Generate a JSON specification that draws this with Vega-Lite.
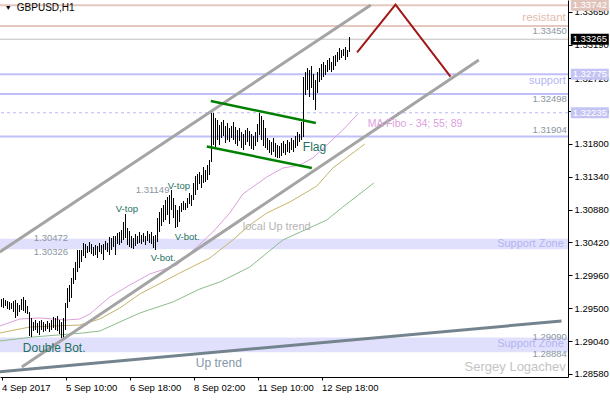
{
"$schema": "https://vega.github.io/schema/vega-lite/v6.json",
"width": 568, "height": 377,
"autosize": {"type": "none"},
"padding": {"left": 0, "top": 0, "right": 42, "bottom": 23},
"background": "white",
"config": {"view": {"stroke": null}, "font": "Liberation Sans"},
"resolve": {"scale": {"color": "independent", "size": "independent"}},
"datasets": {
"bars": [
{"i":0,"h":1.29628,"l":1.29516},{"i":1,"h":1.29642,"l":1.29502},{"i":2,"h":1.29614,"l":1.2953},{"i":3,"h":1.296,"l":1.29488},{"i":4,"h":1.29586,"l":1.29474},{"i":5,"h":1.29572,"l":1.29488},{"i":6,"h":1.296,"l":1.29446},{"i":7,"h":1.29614,"l":1.29362},{"i":8,"h":1.29572,"l":1.2939},{"i":9,"h":1.29544,"l":1.29446},
{"i":10,"h":1.29628,"l":1.29474},{"i":11,"h":1.29656,"l":1.2946},{"i":12,"h":1.29614,"l":1.29432},{"i":13,"h":1.2953,"l":1.29418},{"i":14,"h":1.29446,"l":1.2911},{"i":15,"h":1.29362,"l":1.29096},{"i":16,"h":1.29306,"l":1.2918},{"i":17,"h":1.29334,"l":1.29194},{"i":18,"h":1.29292,"l":1.29152},{"i":19,"h":1.2932,"l":1.29124},
{"i":20,"h":1.29334,"l":1.29194},{"i":21,"h":1.29306,"l":1.29166},{"i":22,"h":1.29278,"l":1.2918},{"i":23,"h":1.2932,"l":1.29208},{"i":24,"h":1.29292,"l":1.29166},{"i":25,"h":1.29334,"l":1.29194},{"i":26,"h":1.29376,"l":1.29222},{"i":27,"h":1.29362,"l":1.29194},{"i":28,"h":1.2939,"l":1.2918},{"i":29,"h":1.29334,"l":1.29138},
{"i":30,"h":1.29306,"l":1.29082},{"i":31,"h":1.29362,"l":1.29068},{"i":32,"h":1.29572,"l":1.29194},{"i":33,"h":1.29782,"l":1.29502},{"i":34,"h":1.29824,"l":1.29586},{"i":35,"h":1.29922,"l":1.29642},{"i":36,"h":1.30062,"l":1.29838},{"i":37,"h":1.30146,"l":1.29894},{"i":38,"h":1.30314,"l":1.30006},{"i":39,"h":1.30314,"l":1.30062},
{"i":40,"h":1.30314,"l":1.30146},{"i":41,"h":1.30412,"l":1.3023},{"i":42,"h":1.30398,"l":1.30202},{"i":43,"h":1.3037,"l":1.30272},{"i":44,"h":1.30426,"l":1.30286},{"i":45,"h":1.30398,"l":1.30258},{"i":46,"h":1.30356,"l":1.3023},{"i":47,"h":1.30384,"l":1.30244},{"i":48,"h":1.3037,"l":1.30202},{"i":49,"h":1.30412,"l":1.30286},
{"i":50,"h":1.30384,"l":1.30258},{"i":51,"h":1.30398,"l":1.30174},{"i":52,"h":1.3044,"l":1.30314},{"i":53,"h":1.30412,"l":1.30286},{"i":54,"h":1.30496,"l":1.30244},{"i":55,"h":1.30482,"l":1.30314},{"i":56,"h":1.3051,"l":1.30356},{"i":57,"h":1.3051,"l":1.30244},{"i":58,"h":1.30552,"l":1.30398},{"i":59,"h":1.30566,"l":1.30384},
{"i":60,"h":1.30594,"l":1.30412},{"i":61,"h":1.30706,"l":1.30454},{"i":62,"h":1.30818,"l":1.30482},{"i":63,"h":1.30622,"l":1.30384},{"i":64,"h":1.3058,"l":1.30356},{"i":65,"h":1.3051,"l":1.30342},{"i":66,"h":1.30482,"l":1.30328},{"i":67,"h":1.30538,"l":1.3037},{"i":68,"h":1.3051,"l":1.30398},{"i":69,"h":1.30566,"l":1.30412},
{"i":70,"h":1.30524,"l":1.30398},{"i":71,"h":1.30552,"l":1.30426},{"i":72,"h":1.3051,"l":1.30384},{"i":73,"h":1.3058,"l":1.3044},{"i":74,"h":1.30538,"l":1.30412},{"i":75,"h":1.30566,"l":1.30398},{"i":76,"h":1.3051,"l":1.30342},{"i":77,"h":1.30524,"l":1.30314},{"i":78,"h":1.30762,"l":1.30426},{"i":79,"h":1.30846,"l":1.30566},
{"i":80,"h":1.30902,"l":1.3065},{"i":81,"h":1.30944,"l":1.30706},{"i":82,"h":1.31014,"l":1.30734},{"i":83,"h":1.31056,"l":1.30804},{"i":84,"h":1.31084,"l":1.30678},{"i":85,"h":1.31154,"l":1.30874},{"i":86,"h":1.31042,"l":1.30762},{"i":87,"h":1.30944,"l":1.30622},{"i":88,"h":1.30874,"l":1.30636},{"i":89,"h":1.3093,"l":1.30706},
{"i":90,"h":1.30972,"l":1.30846},{"i":91,"h":1.31,"l":1.30874},{"i":92,"h":1.30972,"l":1.30874},{"i":93,"h":1.31042,"l":1.30902},{"i":94,"h":1.31112,"l":1.30958},{"i":95,"h":1.31084,"l":1.3093},{"i":96,"h":1.31252,"l":1.31014},{"i":97,"h":1.3135,"l":1.31084},{"i":98,"h":1.31378,"l":1.31154},{"i":99,"h":1.31406,"l":1.31238},
{"i":100,"h":1.31364,"l":1.31182},{"i":101,"h":1.31476,"l":1.31252},{"i":102,"h":1.31434,"l":1.31266},{"i":103,"h":1.31504,"l":1.31294},{"i":104,"h":1.31574,"l":1.31364},{"i":105,"h":1.32232,"l":1.31546},{"i":106,"h":1.32232,"l":1.31784},{"i":107,"h":1.32162,"l":1.31756},{"i":108,"h":1.32134,"l":1.31854},{"i":109,"h":1.32064,"l":1.31784},
{"i":110,"h":1.32106,"l":1.31882},{"i":111,"h":1.32134,"l":1.3191},{"i":112,"h":1.3205,"l":1.31812},{"i":113,"h":1.32092,"l":1.31854},{"i":114,"h":1.32022,"l":1.31826},{"i":115,"h":1.3205,"l":1.31882},{"i":116,"h":1.32106,"l":1.31854},{"i":117,"h":1.32036,"l":1.31798},{"i":118,"h":1.31994,"l":1.3177},{"i":119,"h":1.32022,"l":1.3184},
{"i":120,"h":1.31966,"l":1.31742},{"i":121,"h":1.31938,"l":1.31714},{"i":122,"h":1.31994,"l":1.31784},{"i":123,"h":1.32022,"l":1.31826},{"i":124,"h":1.3198,"l":1.3177},{"i":125,"h":1.31938,"l":1.31728},{"i":126,"h":1.3191,"l":1.31714},{"i":127,"h":1.31966,"l":1.3177},{"i":128,"h":1.32078,"l":1.31826},{"i":129,"h":1.32232,"l":1.31924},
{"i":130,"h":1.3219,"l":1.31854},{"i":131,"h":1.32134,"l":1.3177},{"i":132,"h":1.32022,"l":1.31742},{"i":133,"h":1.31882,"l":1.31714},{"i":134,"h":1.31854,"l":1.31672},{"i":135,"h":1.31826,"l":1.31644},{"i":136,"h":1.31882,"l":1.31686},{"i":137,"h":1.31812,"l":1.31616},{"i":138,"h":1.31784,"l":1.31602},{"i":139,"h":1.3177,"l":1.31602},
{"i":140,"h":1.31812,"l":1.3163},{"i":141,"h":1.3184,"l":1.31672},{"i":142,"h":1.31798,"l":1.31644},{"i":143,"h":1.31854,"l":1.31686},{"i":144,"h":1.31826,"l":1.31672},{"i":145,"h":1.31882,"l":1.31714},{"i":146,"h":1.31854,"l":1.31686},{"i":147,"h":1.3191,"l":1.31742},{"i":148,"h":1.31966,"l":1.3177},{"i":149,"h":1.31938,"l":1.31826},
{"i":150,"h":1.32106,"l":1.31854},{"i":151,"h":1.32736,"l":1.31896},{"i":152,"h":1.32806,"l":1.32484},{"i":153,"h":1.32862,"l":1.32554},{"i":154,"h":1.32834,"l":1.32456},{"i":155,"h":1.3289,"l":1.32582},{"i":156,"h":1.32778,"l":1.32414},{"i":157,"h":1.32694,"l":1.32274},{"i":158,"h":1.32806,"l":1.32512},{"i":159,"h":1.32862,"l":1.32666},
{"i":160,"h":1.32918,"l":1.32694},{"i":161,"h":1.32946,"l":1.32736},{"i":162,"h":1.32904,"l":1.32764},{"i":163,"h":1.32974,"l":1.32806},{"i":164,"h":1.33002,"l":1.32834},{"i":165,"h":1.32946,"l":1.32806},{"i":166,"h":1.3303,"l":1.32834},{"i":167,"h":1.33044,"l":1.3289},{"i":168,"h":1.33086,"l":1.32946},{"i":169,"h":1.33142,"l":1.32974},
{"i":170,"h":1.33114,"l":1.33002},{"i":171,"h":1.33128,"l":1.3303},{"i":172,"h":1.33156,"l":1.32974},{"i":173,"h":1.33114,"l":1.33016},{"i":174,"h":1.33296,"l":1.33086}
],
"ma": [
{"ma":"34","i":-0.85,"p":1.2925},{"ma":"34","i":9.15,"p":1.29348},{"ma":"34","i":19.15,"p":1.29362},{"ma":"34","i":32.15,"p":1.29334},{"ma":"34","i":39.15,"p":1.29348},{"ma":"34","i":44.15,"p":1.29418},{"ma":"34","i":54.15,"p":1.29656},{"ma":"34","i":64.15,"p":1.29824},{"ma":"34","i":74.15,"p":1.29978},{"ma":"34","i":87.65,"p":1.30104},{"ma":"34","i":97.65,"p":1.30356},{"ma":"34","i":105.65,"p":1.30566},{"ma":"34","i":114.15,"p":1.30832},{"ma":"34","i":120.65,"p":1.31098},{"ma":"34","i":132.65,"p":1.31336},{"ma":"34","i":140.65,"p":1.31462},{"ma":"34","i":149.15,"p":1.31504},{"ma":"34","i":155.65,"p":1.31602},{"ma":"34","i":162.65,"p":1.31784},{"ma":"34","i":170.65,"p":1.31994},{"ma":"34","i":178.15,"p":1.32218},
{"ma":"55","i":-0.85,"p":1.29152},{"ma":"55","i":14.15,"p":1.29236},{"ma":"55","i":39.15,"p":1.29264},{"ma":"55","i":49.15,"p":1.29348},{"ma":"55","i":59.15,"p":1.29502},{"ma":"55","i":69.15,"p":1.29698},{"ma":"55","i":89.15,"p":1.29992},{"ma":"55","i":104.15,"p":1.30202},{"ma":"55","i":115.65,"p":1.30454},{"ma":"55","i":124.15,"p":1.30664},{"ma":"55","i":132.65,"p":1.30832},{"ma":"55","i":144.15,"p":1.30986},{"ma":"55","i":152.65,"p":1.31126},{"ma":"55","i":157.65,"p":1.3121},{"ma":"55","i":165.65,"p":1.31462},{"ma":"55","i":181.65,"p":1.31798},
{"ma":"89","i":-0.85,"p":1.2904},{"ma":"89","i":15.65,"p":1.29096},{"ma":"89","i":40.65,"p":1.29152},{"ma":"89","i":49.15,"p":1.2918},{"ma":"89","i":59.15,"p":1.29306},{"ma":"89","i":69.15,"p":1.29432},{"ma":"89","i":85.65,"p":1.29586},{"ma":"89","i":99.15,"p":1.29768},{"ma":"89","i":109.15,"p":1.29866},{"ma":"89","i":124.15,"p":1.30076},{"ma":"89","i":140.65,"p":1.30454},{"ma":"89","i":162.65,"p":1.30734},{"ma":"89","i":170.65,"p":1.30916},{"ma":"89","i":186.15,"p":1.31252}
],
"seg": [
{"g":"channel","id":"up","i":-0.85,"p":1.30286},{"g":"channel","id":"up","i":184.65,"p":1.33744},
{"g":"channel","id":"lo","i":10.15,"p":1.28676},{"g":"channel","id":"lo","i":238.65,"p":1.32974},
{"g":"flag","id":"fu","i":104.65,"p":1.324},{"g":"flag","id":"fu","i":157.15,"p":1.32092},
{"g":"flag","id":"fl","i":102.65,"p":1.31763},{"g":"flag","id":"fl","i":155.15,"p":1.31462},
{"g":"zig","id":"z","i":177.8,"p":1.33082},{"g":"zig","id":"z","i":197,"p":1.33748},{"g":"zig","id":"z","i":224.5,"p":1.3274},
{"g":"trend","id":"t","i":-0.85,"p":1.2861},{"g":"trend","id":"t","i":280,"p":1.2932}
],
"hl": [
{"k":"res","p":1.33742},{"k":"res","p":1.3345},{"k":"bid","p":1.33265},{"k":"sup","p":1.32775},{"k":"sup","p":1.32498},{"k":"sup","p":1.31904},{"k":"dash","p":1.32235}
],
"band": [{"lo":1.30326,"hi":1.30472},{"lo":1.28884,"hi":1.2909}],
"txt": [
{"k":"title","t":"GBPUSD,H1","i":7.65,"p":1.33702},
{"k":"tri","t":"▼","i":1.65,"p":1.33698},
{"k":"price","t":"1.31149","i":67.15,"p":1.31154},
{"k":"price","t":"1.30472","i":16.15,"p":1.30482},
{"k":"price","t":"1.30326","i":16.15,"p":1.30286},
{"k":"pat","t":"V-top","i":57.15,"p":1.30888},
{"k":"pat","t":"V-top","i":83.15,"p":1.3121},
{"k":"pat","t":"V-bot.","i":86.65,"p":1.30496},
{"k":"pat","t":"V-bot.","i":74.65,"p":1.30202},
{"k":"patL","t":"Flag","i":150.65,"p":1.31756},
{"k":"patL","t":"Double Bot.","i":10.65,"p":1.28942},
{"k":"mat","t":"MA Fibo - 34; 55; 89","i":183.15,"p":1.32078},
{"k":"local","t":"local Up trend","i":120.65,"p":1.30636},
{"k":"up","t":"Up trend","i":97.15,"p":1.28732}
],
"rtxt": [
{"k":"res","t":"resistant","i":282.15,"p":1.33562},
{"k":"price","t":"1.33450","i":282.65,"p":1.3338},
{"k":"price","t":"1.32498","i":282.65,"p":1.32428},
{"k":"price","t":"1.31904","i":282.65,"p":1.31994},
{"k":"price","t":"1.29090","i":282.65,"p":1.29096},
{"k":"price","t":"1.28884","i":282.65,"p":1.28858},
{"k":"sup","t":"support","i":282.15,"p":1.3268},
{"k":"sup","t":"Support Zone","i":281.15,"p":1.30398},
{"k":"sup","t":"Support Zone","i":281.15,"p":1.28998},
{"k":"sig","t":"Sergey Logachev","i":282.15,"p":1.28676}
],
"box": [
{"k":"res","t":"1.33742","p":1.33742},{"k":"bid","t":"1.33265","p":1.33265},{"k":"sup","t":"1.32775","p":1.32775},{"k":"sup","t":"1.32235","p":1.32235}
]
},
"layer": [
{"data":{"name":"band"},"mark":{"type":"rect","color":"#e0e0fc"},
 "encoding":{"y":{"field":"hi","type":"quantitative","scale":{"domain":[1.28536,1.33814],"nice":false,"zero":false},
   "axis":{"orient":"right","title":null,"grid":false,"zindex":0,"values":[1.2858,1.2904,1.295,1.2996,1.3042,1.3088,1.3134,1.318,1.3226,1.3272,1.3319,1.3365],"format":".5f","tickSize":4,"tickColor":"black","domainColor":"black","labelColor":"black","labelFont":"Liberation Sans","labelFontSize":9.5,"labelPadding":2,"labelBaseline":"middle"}},
  "y2":{"field":"lo"}}},
{"data":{"name":"hl"},"transform":[{"filter":"datum.k=='res'"}],"mark":{"type":"rule","color":"#e4c8c0","strokeWidth":2},
 "encoding":{"y":{"field":"p","type":"quantitative","scale":{"domain":[1.28536,1.33814],"nice":false,"zero":false},
   "axis":{"orient":"right","title":null,"grid":false,"zindex":0,"values":[1.2858,1.2904,1.295,1.2996,1.3042,1.3088,1.3134,1.318,1.3226,1.3272,1.3319,1.3365],"format":".5f","tickSize":4,"tickColor":"black","domainColor":"black","labelColor":"black","labelFont":"Liberation Sans","labelFontSize":9.5,"labelPadding":2,"labelBaseline":"middle"}}}},
{"data":{"name":"hl"},"transform":[{"filter":"datum.k=='bid'"}],"mark":{"type":"rule","color":"#c0c0c0","strokeWidth":1},
 "encoding":{"y":{"field":"p","type":"quantitative","scale":{"domain":[1.28536,1.33814],"nice":false,"zero":false},
   "axis":{"orient":"right","title":null,"grid":false,"zindex":0,"values":[1.2858,1.2904,1.295,1.2996,1.3042,1.3088,1.3134,1.318,1.3226,1.3272,1.3319,1.3365],"format":".5f","tickSize":4,"tickColor":"black","domainColor":"black","labelColor":"black","labelFont":"Liberation Sans","labelFontSize":9.5,"labelPadding":2,"labelBaseline":"middle"}}}},
{"data":{"name":"hl"},"transform":[{"filter":"datum.k=='sup'"}],"mark":{"type":"rule","color":"#c0c0f8","strokeWidth":2},
 "encoding":{"y":{"field":"p","type":"quantitative","scale":{"domain":[1.28536,1.33814],"nice":false,"zero":false},
   "axis":{"orient":"right","title":null,"grid":false,"zindex":0,"values":[1.2858,1.2904,1.295,1.2996,1.3042,1.3088,1.3134,1.318,1.3226,1.3272,1.3319,1.3365],"format":".5f","tickSize":4,"tickColor":"black","domainColor":"black","labelColor":"black","labelFont":"Liberation Sans","labelFontSize":9.5,"labelPadding":2,"labelBaseline":"middle"}}}},
{"data":{"name":"hl"},"transform":[{"filter":"datum.k=='dash'"}],"mark":{"type":"rule","color":"#b8b8f8","strokeWidth":1,"strokeDash":[3,3]},
 "encoding":{"y":{"field":"p","type":"quantitative","scale":{"domain":[1.28536,1.33814],"nice":false,"zero":false},
   "axis":{"orient":"right","title":null,"grid":false,"zindex":0,"values":[1.2858,1.2904,1.295,1.2996,1.3042,1.3088,1.3134,1.318,1.3226,1.3272,1.3319,1.3365],"format":".5f","tickSize":4,"tickColor":"black","domainColor":"black","labelColor":"black","labelFont":"Liberation Sans","labelFontSize":9.5,"labelPadding":2,"labelBaseline":"middle"}}}},
{"data":{"name":"ma"},"mark":{"type":"line","strokeWidth":1},
 "encoding":{"x":{"field":"i","type":"quantitative","scale":{"domain":[-0.75,283.25],"nice":false,"zero":false},
   "axis":{"title":null,"grid":false,"zindex":0,"values":[0,32,64,96,128,160],"labelExpr":"['4 Sep 2017','5 Sep 10:00','6 Sep 18:00','8 Sep 02:00','11 Sep 10:00','12 Sep 18:00'][round(datum.value/32)]","labelAlign":"left","labelDx":1,"labelFlush":false,"labelOverlap":false,"tickSize":3,"tickColor":"black","domainColor":"black","labelColor":"black","labelFont":"Liberation Sans","labelFontSize":9.5,"labelPadding":2}},
  "y":{"field":"p","type":"quantitative","scale":{"domain":[1.28536,1.33814],"nice":false,"zero":false},
   "axis":{"orient":"right","title":null,"grid":false,"zindex":0,"values":[1.2858,1.2904,1.295,1.2996,1.3042,1.3088,1.3134,1.318,1.3226,1.3272,1.3319,1.3365],"format":".5f","tickSize":4,"tickColor":"black","domainColor":"black","labelColor":"black","labelFont":"Liberation Sans","labelFontSize":9.5,"labelPadding":2,"labelBaseline":"middle"}},
  "color":{"field":"ma","type":"nominal","scale":{"domain":["34","55","89"],"range":["#dca0dc","#c4b46c","#8cbc8c"]},"legend":null}}},
{"data":{"name":"bars"},"mark":{"type":"rule","color":"black","strokeWidth":1},
 "encoding":{"x":{"field":"i","type":"quantitative","scale":{"domain":[-0.75,283.25],"nice":false,"zero":false},
   "axis":{"title":null,"grid":false,"zindex":0,"values":[0,32,64,96,128,160],"labelExpr":"['4 Sep 2017','5 Sep 10:00','6 Sep 18:00','8 Sep 02:00','11 Sep 10:00','12 Sep 18:00'][round(datum.value/32)]","labelAlign":"left","labelDx":1,"labelFlush":false,"labelOverlap":false,"tickSize":3,"tickColor":"black","domainColor":"black","labelColor":"black","labelFont":"Liberation Sans","labelFontSize":9.5,"labelPadding":2}},
  "y":{"field":"h","type":"quantitative","scale":{"domain":[1.28536,1.33814],"nice":false,"zero":false},
   "axis":{"orient":"right","title":null,"grid":false,"zindex":0,"values":[1.2858,1.2904,1.295,1.2996,1.3042,1.3088,1.3134,1.318,1.3226,1.3272,1.3319,1.3365],"format":".5f","tickSize":4,"tickColor":"black","domainColor":"black","labelColor":"black","labelFont":"Liberation Sans","labelFontSize":9.5,"labelPadding":2,"labelBaseline":"middle"}},
  "y2":{"field":"l"}}},
{"data":{"name":"seg"},"transform":[{"filter":"datum.g=='channel'"}],"mark":{"type":"line","color":"#a4a4a4","strokeWidth":3},
 "encoding":{"x":{"field":"i","type":"quantitative","scale":{"domain":[-0.75,283.25],"nice":false,"zero":false},
   "axis":{"title":null,"grid":false,"zindex":0,"values":[0,32,64,96,128,160],"labelExpr":"['4 Sep 2017','5 Sep 10:00','6 Sep 18:00','8 Sep 02:00','11 Sep 10:00','12 Sep 18:00'][round(datum.value/32)]","labelAlign":"left","labelDx":1,"labelFlush":false,"labelOverlap":false,"tickSize":3,"tickColor":"black","domainColor":"black","labelColor":"black","labelFont":"Liberation Sans","labelFontSize":9.5,"labelPadding":2}},
  "y":{"field":"p","type":"quantitative","scale":{"domain":[1.28536,1.33814],"nice":false,"zero":false},
   "axis":{"orient":"right","title":null,"grid":false,"zindex":0,"values":[1.2858,1.2904,1.295,1.2996,1.3042,1.3088,1.3134,1.318,1.3226,1.3272,1.3319,1.3365],"format":".5f","tickSize":4,"tickColor":"black","domainColor":"black","labelColor":"black","labelFont":"Liberation Sans","labelFontSize":9.5,"labelPadding":2,"labelBaseline":"middle"}},
  "detail":{"field":"id"}}},
{"data":{"name":"seg"},"transform":[{"filter":"datum.g=='trend'"}],"mark":{"type":"line","color":"#74848f","strokeWidth":3},
 "encoding":{"x":{"field":"i","type":"quantitative","scale":{"domain":[-0.75,283.25],"nice":false,"zero":false},
   "axis":{"title":null,"grid":false,"zindex":0,"values":[0,32,64,96,128,160],"labelExpr":"['4 Sep 2017','5 Sep 10:00','6 Sep 18:00','8 Sep 02:00','11 Sep 10:00','12 Sep 18:00'][round(datum.value/32)]","labelAlign":"left","labelDx":1,"labelFlush":false,"labelOverlap":false,"tickSize":3,"tickColor":"black","domainColor":"black","labelColor":"black","labelFont":"Liberation Sans","labelFontSize":9.5,"labelPadding":2}},
  "y":{"field":"p","type":"quantitative","scale":{"domain":[1.28536,1.33814],"nice":false,"zero":false},
   "axis":{"orient":"right","title":null,"grid":false,"zindex":0,"values":[1.2858,1.2904,1.295,1.2996,1.3042,1.3088,1.3134,1.318,1.3226,1.3272,1.3319,1.3365],"format":".5f","tickSize":4,"tickColor":"black","domainColor":"black","labelColor":"black","labelFont":"Liberation Sans","labelFontSize":9.5,"labelPadding":2,"labelBaseline":"middle"}},
  "detail":{"field":"id"}}},
{"data":{"name":"seg"},"transform":[{"filter":"datum.g=='flag'"}],"mark":{"type":"line","color":"#008000","strokeWidth":2.5},
 "encoding":{"x":{"field":"i","type":"quantitative","scale":{"domain":[-0.75,283.25],"nice":false,"zero":false},
   "axis":{"title":null,"grid":false,"zindex":0,"values":[0,32,64,96,128,160],"labelExpr":"['4 Sep 2017','5 Sep 10:00','6 Sep 18:00','8 Sep 02:00','11 Sep 10:00','12 Sep 18:00'][round(datum.value/32)]","labelAlign":"left","labelDx":1,"labelFlush":false,"labelOverlap":false,"tickSize":3,"tickColor":"black","domainColor":"black","labelColor":"black","labelFont":"Liberation Sans","labelFontSize":9.5,"labelPadding":2}},
  "y":{"field":"p","type":"quantitative","scale":{"domain":[1.28536,1.33814],"nice":false,"zero":false},
   "axis":{"orient":"right","title":null,"grid":false,"zindex":0,"values":[1.2858,1.2904,1.295,1.2996,1.3042,1.3088,1.3134,1.318,1.3226,1.3272,1.3319,1.3365],"format":".5f","tickSize":4,"tickColor":"black","domainColor":"black","labelColor":"black","labelFont":"Liberation Sans","labelFontSize":9.5,"labelPadding":2,"labelBaseline":"middle"}},
  "detail":{"field":"id"}}},
{"data":{"name":"seg"},"transform":[{"filter":"datum.g=='zig'"}],"mark":{"type":"line","color":"#a01818","strokeWidth":2},
 "encoding":{"x":{"field":"i","type":"quantitative","scale":{"domain":[-0.75,283.25],"nice":false,"zero":false},
   "axis":{"title":null,"grid":false,"zindex":0,"values":[0,32,64,96,128,160],"labelExpr":"['4 Sep 2017','5 Sep 10:00','6 Sep 18:00','8 Sep 02:00','11 Sep 10:00','12 Sep 18:00'][round(datum.value/32)]","labelAlign":"left","labelDx":1,"labelFlush":false,"labelOverlap":false,"tickSize":3,"tickColor":"black","domainColor":"black","labelColor":"black","labelFont":"Liberation Sans","labelFontSize":9.5,"labelPadding":2}},
  "y":{"field":"p","type":"quantitative","scale":{"domain":[1.28536,1.33814],"nice":false,"zero":false},
   "axis":{"orient":"right","title":null,"grid":false,"zindex":0,"values":[1.2858,1.2904,1.295,1.2996,1.3042,1.3088,1.3134,1.318,1.3226,1.3272,1.3319,1.3365],"format":".5f","tickSize":4,"tickColor":"black","domainColor":"black","labelColor":"black","labelFont":"Liberation Sans","labelFontSize":9.5,"labelPadding":2,"labelBaseline":"middle"}},
  "detail":{"field":"id"}}},
{"data":{"name":"txt"},"mark":{"type":"text","align":"left","baseline":"middle","font":"Liberation Sans"},
 "encoding":{"x":{"field":"i","type":"quantitative","scale":{"domain":[-0.75,283.25],"nice":false,"zero":false},
   "axis":{"title":null,"grid":false,"zindex":0,"values":[0,32,64,96,128,160],"labelExpr":"['4 Sep 2017','5 Sep 10:00','6 Sep 18:00','8 Sep 02:00','11 Sep 10:00','12 Sep 18:00'][round(datum.value/32)]","labelAlign":"left","labelDx":1,"labelFlush":false,"labelOverlap":false,"tickSize":3,"tickColor":"black","domainColor":"black","labelColor":"black","labelFont":"Liberation Sans","labelFontSize":9.5,"labelPadding":2}},
  "y":{"field":"p","type":"quantitative","scale":{"domain":[1.28536,1.33814],"nice":false,"zero":false},
   "axis":{"orient":"right","title":null,"grid":false,"zindex":0,"values":[1.2858,1.2904,1.295,1.2996,1.3042,1.3088,1.3134,1.318,1.3226,1.3272,1.3319,1.3365],"format":".5f","tickSize":4,"tickColor":"black","domainColor":"black","labelColor":"black","labelFont":"Liberation Sans","labelFontSize":9.5,"labelPadding":2,"labelBaseline":"middle"}},
  "text":{"field":"t"},
  "color":{"field":"k","type":"nominal","scale":{"domain":["title","tri","price","pat","patL","mat","local","up"],"range":["#000000","#000000","#8a96a2","#23705e","#23705e","#dca0dc","#b4b4b4","#8496aa"]},"legend":null},
  "size":{"field":"k","type":"nominal","scale":{"type":"ordinal","domain":["title","tri","price","pat","patL","mat","local","up"],"range":[10,7,9.5,9.5,12,10.5,11,12]},"legend":null}}},
{"data":{"name":"rtxt"},"mark":{"type":"text","align":"right","baseline":"middle","font":"Liberation Sans"},
 "encoding":{"x":{"field":"i","type":"quantitative","scale":{"domain":[-0.75,283.25],"nice":false,"zero":false},
   "axis":{"title":null,"grid":false,"zindex":0,"values":[0,32,64,96,128,160],"labelExpr":"['4 Sep 2017','5 Sep 10:00','6 Sep 18:00','8 Sep 02:00','11 Sep 10:00','12 Sep 18:00'][round(datum.value/32)]","labelAlign":"left","labelDx":1,"labelFlush":false,"labelOverlap":false,"tickSize":3,"tickColor":"black","domainColor":"black","labelColor":"black","labelFont":"Liberation Sans","labelFontSize":9.5,"labelPadding":2}},
  "y":{"field":"p","type":"quantitative","scale":{"domain":[1.28536,1.33814],"nice":false,"zero":false},
   "axis":{"orient":"right","title":null,"grid":false,"zindex":0,"values":[1.2858,1.2904,1.295,1.2996,1.3042,1.3088,1.3134,1.318,1.3226,1.3272,1.3319,1.3365],"format":".5f","tickSize":4,"tickColor":"black","domainColor":"black","labelColor":"black","labelFont":"Liberation Sans","labelFontSize":9.5,"labelPadding":2,"labelBaseline":"middle"}},
  "text":{"field":"t"},
  "color":{"field":"k","type":"nominal","scale":{"domain":["res","price","sup","sig"],"range":["#e2bcb0","#8a96a2","#b4b4f2","#c4c4c4"]},"legend":null},
  "size":{"field":"k","type":"nominal","scale":{"type":"ordinal","domain":["res","price","sup","sig"],"range":[11.5,9.5,11,13]},"legend":null}}},
{"data":{"name":"box"},"mark":{"type":"rule","strokeWidth":11,"strokeCap":"butt","clip":false},
 "encoding":{"x":{"datum":284.65,"type":"quantitative","scale":{"domain":[-0.75,283.25],"nice":false,"zero":false},
   "axis":{"title":null,"grid":false,"zindex":0,"values":[0,32,64,96,128,160],"labelExpr":"['4 Sep 2017','5 Sep 10:00','6 Sep 18:00','8 Sep 02:00','11 Sep 10:00','12 Sep 18:00'][round(datum.value/32)]","labelAlign":"left","labelDx":1,"labelFlush":false,"labelOverlap":false,"tickSize":3,"tickColor":"black","domainColor":"black","labelColor":"black","labelFont":"Liberation Sans","labelFontSize":9.5,"labelPadding":2}},
  "x2":{"datum":303.65},
  "y":{"field":"p","type":"quantitative","scale":{"domain":[1.28536,1.33814],"nice":false,"zero":false},
   "axis":{"orient":"right","title":null,"grid":false,"zindex":0,"values":[1.2858,1.2904,1.295,1.2996,1.3042,1.3088,1.3134,1.318,1.3226,1.3272,1.3319,1.3365],"format":".5f","tickSize":4,"tickColor":"black","domainColor":"black","labelColor":"black","labelFont":"Liberation Sans","labelFontSize":9.5,"labelPadding":2,"labelBaseline":"middle"}},
  "color":{"field":"k","type":"nominal","scale":{"domain":["res","bid","sup"],"range":["#e0c4bc","#000000","#c4c4f4"]},"legend":null}}},
{"data":{"name":"box"},"mark":{"type":"text","align":"center","baseline":"middle","color":"white","font":"Liberation Sans","fontSize":9.5,"clip":false},
 "encoding":{"x":{"datum":294.15,"type":"quantitative","scale":{"domain":[-0.75,283.25],"nice":false,"zero":false},
   "axis":{"title":null,"grid":false,"zindex":0,"values":[0,32,64,96,128,160],"labelExpr":"['4 Sep 2017','5 Sep 10:00','6 Sep 18:00','8 Sep 02:00','11 Sep 10:00','12 Sep 18:00'][round(datum.value/32)]","labelAlign":"left","labelDx":1,"labelFlush":false,"labelOverlap":false,"tickSize":3,"tickColor":"black","domainColor":"black","labelColor":"black","labelFont":"Liberation Sans","labelFontSize":9.5,"labelPadding":2}},
  "y":{"field":"p","type":"quantitative","scale":{"domain":[1.28536,1.33814],"nice":false,"zero":false},
   "axis":{"orient":"right","title":null,"grid":false,"zindex":0,"values":[1.2858,1.2904,1.295,1.2996,1.3042,1.3088,1.3134,1.318,1.3226,1.3272,1.3319,1.3365],"format":".5f","tickSize":4,"tickColor":"black","domainColor":"black","labelColor":"black","labelFont":"Liberation Sans","labelFontSize":9.5,"labelPadding":2,"labelBaseline":"middle"}},
  "text":{"field":"t"}}},
{"mark":{"type":"rule","color":"black","strokeWidth":2},"encoding":{"x":{"datum":-0.75,"type":"quantitative","scale":{"domain":[-0.75,283.25],"nice":false,"zero":false},
   "axis":{"title":null,"grid":false,"zindex":0,"values":[0,32,64,96,128,160],"labelExpr":"['4 Sep 2017','5 Sep 10:00','6 Sep 18:00','8 Sep 02:00','11 Sep 10:00','12 Sep 18:00'][round(datum.value/32)]","labelAlign":"left","labelDx":1,"labelFlush":false,"labelOverlap":false,"tickSize":3,"tickColor":"black","domainColor":"black","labelColor":"black","labelFont":"Liberation Sans","labelFontSize":9.5,"labelPadding":2}}}}
]
}
